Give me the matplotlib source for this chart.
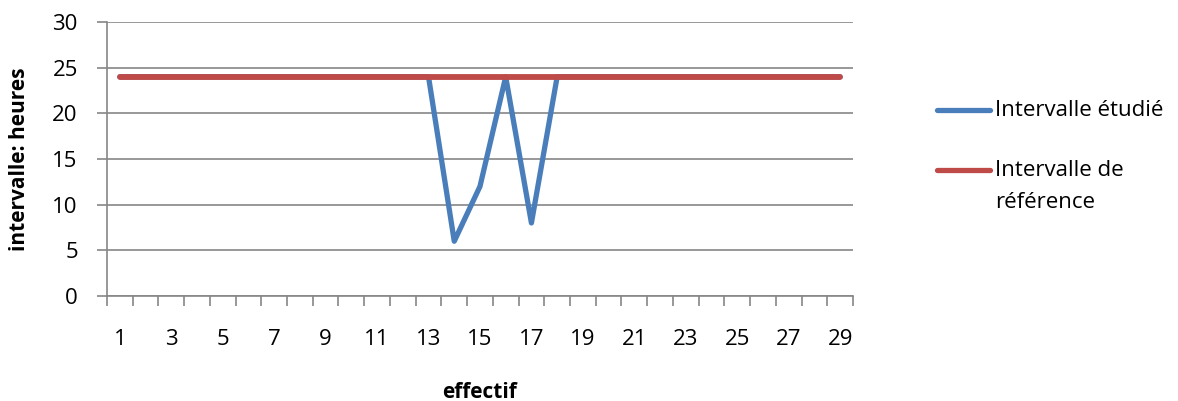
import matplotlib.pyplot as plt
from matplotlib.lines import Line2D

effectif = list(range(1, 30))
etudie = [24] * 13 + [6, 12, 24, 8] + [24] * 12
reference = [24] * 29
x_labels = [str(v) if v % 2 == 1 else "" for v in effectif]

blue = "#4A7EBB"
red = "#BE4B48"
grey = "#868686"

plt.rcParams['font.family'] = ['Open Sans', 'DejaVu Sans']
fs = 16

fig = plt.figure(figsize=(11.78, 4.01), dpi=100)
ax = fig.add_axes([0.0908, 0.2618, 0.6333, 0.6833])

ax.plot(effectif, etudie, color=blue, lw=3.8, solid_joinstyle='round', solid_capstyle='round')
ax.plot(effectif, reference, color=red, lw=4.2, solid_capstyle='round')

ax.set_xlim(0.5, 29.5)
ax.set_ylim(0, 30)
ax.set_yticks(range(0, 31, 5))
ax.yaxis.grid(True, color=grey, lw=1.2)
ax.set_axisbelow(True)

# category axis: ticks between categories, labels on odd categories
ax.set_xticks([v + 0.5 for v in range(0, 30)], minor=False)
ax.set_xticklabels([])
ax.set_xticks(effectif, minor=True)
ax.set_xticklabels(x_labels, minor=True)
ax.tick_params(axis='x', which='major', length=7, color=grey, width=1.2, direction='out')
ax.tick_params(axis='x', which='minor', length=0, pad=24, labelsize=fs)
ax.tick_params(axis='y', length=7, color=grey, width=1.2, pad=14, labelsize=fs)

for side in ['top', 'right']:
    ax.spines[side].set_visible(False)
for side in ['left', 'bottom']:
    ax.spines[side].set_color(grey)
    ax.spines[side].set_linewidth(1.2)

ax.set_ylabel("intervalle: heures", fontsize=15, fontweight='bold', labelpad=16)
ax.set_xlabel("effectif", fontsize=15, fontweight='bold', labelpad=23)

# legend (Excel style, handle on first line of text)
fig.add_artist(Line2D([937 / 1178, 990 / 1178], [1 - 110 / 401] * 2, color=blue, lw=3.8,
                      solid_capstyle='round', transform=fig.transFigure))
fig.add_artist(Line2D([937 / 1178, 990 / 1178], [1 - 170 / 401] * 2, color=red, lw=3.8,
                      solid_capstyle='round', transform=fig.transFigure))
fig.text(995 / 1178, 1 - 110 / 401, "Intervalle étudié", fontsize=fs, va='center', ha='left')
fig.text(995 / 1178, 1 - 171 / 401, "Intervalle de", fontsize=fs, va='center', ha='left')
fig.text(995 / 1178, 1 - 202 / 401, "référence", fontsize=fs, va='center', ha='left')

fig.savefig("out.png", dpi=100)
